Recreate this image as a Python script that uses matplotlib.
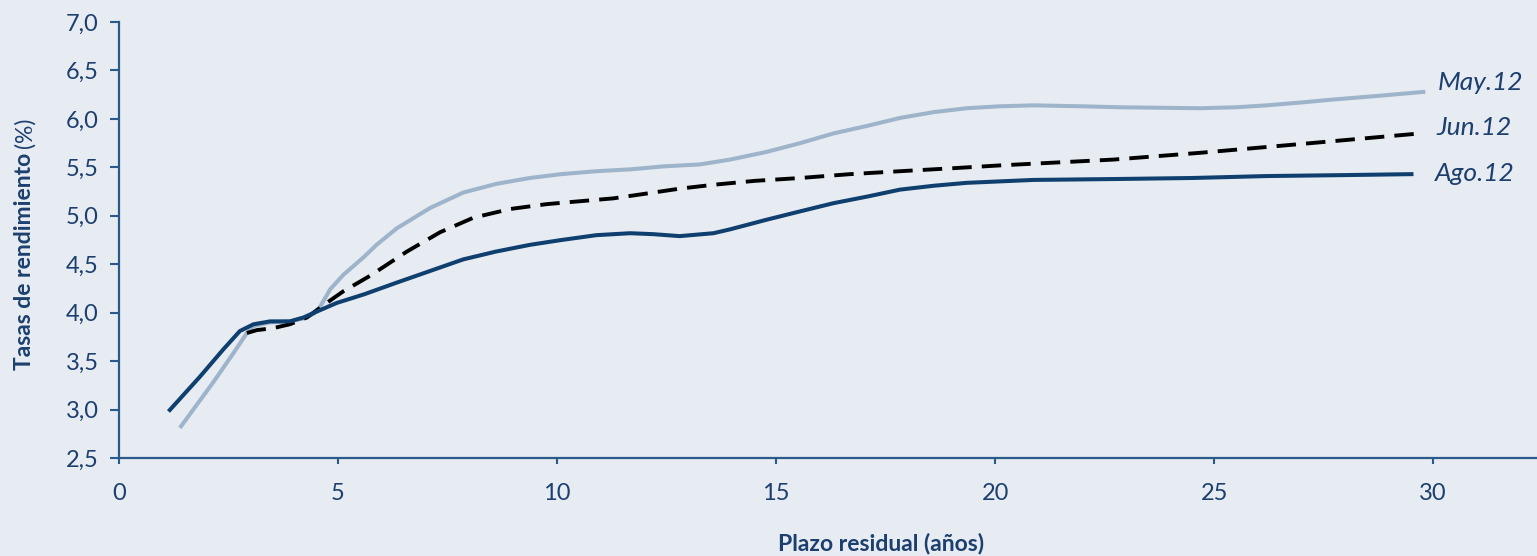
import matplotlib
matplotlib.use("Agg")
import matplotlib.pyplot as plt

plt.rcParams['font.family'] = ['Lato', 'DejaVu Sans']

# Curvas de tipos por plazo residual (años, %)
ago_x = [1.13, 1.85, 2.38, 2.76, 3.07, 3.45, 3.90, 4.21, 4.51, 4.97, 5.6, 6.34, 7.1, 7.86,
         8.6, 9.38, 10.1, 10.9, 11.67, 12.2, 12.8, 13.57, 13.95, 14.79, 15.5, 16.31, 17.1,
         17.83, 18.6, 19.35, 20.87, 22.85, 24.5, 26.2, 28.0, 29.55]
ago_y = [2.98, 3.34, 3.62, 3.81, 3.88, 3.91, 3.91, 3.95, 4.01, 4.10, 4.19, 4.31, 4.43, 4.55,
         4.63, 4.70, 4.75, 4.80, 4.82, 4.81, 4.79, 4.82, 4.86, 4.96, 5.04, 5.13, 5.20,
         5.27, 5.31, 5.34, 5.37, 5.38, 5.39, 5.41, 5.42, 5.43]

may_x = [1.39, 2.15, 2.61, 2.92, 3.07, 3.45, 3.90, 4.21, 4.45, 4.59, 4.82, 5.12, 5.58, 5.88,
         6.34, 7.1, 7.86, 8.62, 9.38, 10.1, 10.9, 11.7, 12.43, 13.26, 13.95, 14.79, 15.55,
         16.31, 17.1, 17.83, 18.6, 19.35, 20.1, 20.87, 22.0, 22.85, 24.68, 25.5, 26.2, 27.0,
         27.72, 28.8, 29.82]
may_y = [2.81, 3.28, 3.58, 3.79, 3.86, 3.90, 3.91, 3.94, 3.99, 4.06, 4.24, 4.39, 4.57, 4.70,
         4.87, 5.08, 5.24, 5.33, 5.39, 5.43, 5.46, 5.48, 5.51, 5.53, 5.58, 5.66, 5.75,
         5.85, 5.93, 6.01, 6.07, 6.11, 6.13, 6.14, 6.13, 6.12, 6.11, 6.12, 6.14, 6.17,
         6.20, 6.24, 6.28]

jun_x = [2.92, 3.15, 3.52, 3.90, 4.29, 4.74, 5.12, 5.73, 6.57, 7.33, 8.09, 8.93, 9.76,
         10.52, 11.29, 12.05, 12.8, 13.57, 14.5, 15.55, 16.7, 17.83, 19.0, 20.11, 21.4,
         22.7, 24.68, 26.96, 29.7]
jun_y = [3.79, 3.82, 3.84, 3.88, 3.95, 4.10, 4.22, 4.38, 4.63, 4.83, 4.98, 5.07, 5.12,
         5.15, 5.18, 5.23, 5.28, 5.32, 5.36, 5.39, 5.43, 5.46, 5.49, 5.52, 5.55,
         5.58, 5.65, 5.74, 5.85]

labels = ['May.12', 'Jun.12', 'Ago.12']
xticks = [0, 5, 10, 15, 20, 25, 30]
yticks = [2.5, 3.0, 3.5, 4.0, 4.5, 5.0, 5.5, 6.0, 6.5, 7.0]

bg = '#e7ebf2'
navy = '#0f3f6e'
light = '#9db4cb'
txt = '#1c3f6e'
axis_col = '#2a5a8a'

fig = plt.figure(figsize=(15.37, 5.56), dpi=100, facecolor=bg)
ax = fig.add_axes([0.0774, 0.1763, 0.9226, 0.7841], facecolor=bg)

ax.plot(may_x, may_y, color=light, lw=2.9, solid_capstyle='butt', solid_joinstyle='round')
ax.plot(jun_x, jun_y, color='black', lw=2.8, linestyle=(0, (5, 2.6)))
ax.plot(ago_x, ago_y, color=navy, lw=2.9, solid_capstyle='butt', solid_joinstyle='round')

# etiquetas al final de cada curva
for lab, xe, ye in zip(labels, [31.07, 30.94, 30.96], [6.38, 5.91, 5.44]):
    ax.text(xe, ye, lab, color=txt, fontsize=19, style='italic',
            ha='center', va='center', clip_on=False)

ax.set_xlim(0, 32.37)
ax.set_ylim(2.5, 7.0)
ax.set_xticks(xticks)
ax.set_yticks(yticks)
ax.set_yticklabels([f'{v:.1f}'.replace('.', ',') for v in yticks])

for side in ['top', 'right']:
    ax.spines[side].set_visible(False)
for side in ['left', 'bottom']:
    ax.spines[side].set_color(axis_col)
    ax.spines[side].set_linewidth(1.6)

ax.tick_params(axis='y', direction='out', length=6.5, width=1.5, color=axis_col,
               labelcolor=txt, labelsize=17, pad=8)
ax.tick_params(axis='x', direction='out', length=4, width=1.5, color=axis_col,
               labelcolor=txt, labelsize=17, pad=14)

fig.text(881 / 1537, 1 - 543 / 556, 'Plazo residual (años)', color=txt, fontsize=16.5,
         fontweight='bold', ha='center', va='center')

# etiqueta vertical: parte en negrita y "(%)" en peso normal
ylab = fig.text(25 / 1537, 1 - 370 / 556, 'Tasas de rendimiento', color=txt, fontsize=16.5,
                fontweight='bold', ha='center', va='bottom', rotation=90)
bb = ylab.get_window_extent(renderer=fig.canvas.get_renderer())
fig.text(25 / 1537, (bb.y1 + 5) / fig.bbox.height, '(%)', color=txt, fontsize=16.5,
         ha='center', va='bottom', rotation=90)

fig.savefig('out.png', dpi=100, facecolor=bg)
